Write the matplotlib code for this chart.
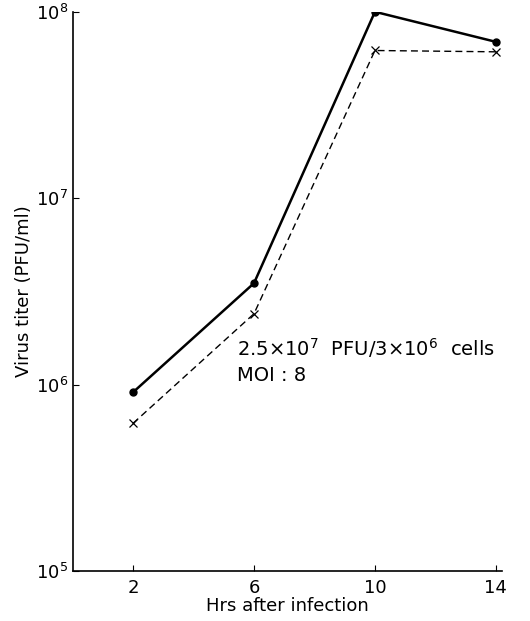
import matplotlib
matplotlib.use("Agg")
import matplotlib.pyplot as plt
from matplotlib.ticker import LogLocator, NullLocator

# data
hours = [2, 6, 10, 14]
titer_solid = [9.1e5, 3.5e6, 1.0e8, 6.9e7]
titer_dashed = [6.2e5, 2.4e6, 6.2e7, 6.1e7]

plt.rcParams['font.family'] = ['DejaVu Sans']
plt.rcParams['mathtext.fontset'] = 'dejavusans'

fig = plt.figure(figsize=(5.3, 6.21), dpi=100)
ax = fig.add_axes([0.137, 0.0805, 0.81, 0.9005])

ax.plot(hours, titer_solid, color='black', lw=1.8, marker='o', ms=5)
ax.plot(hours, titer_dashed, color='black', lw=1.0, ls=(0, (5, 3)),
        marker='x', ms=6, mew=0.9)

ax.set_yscale('log')
ax.set_xlim(0, 14.2)
ax.set_ylim(1e5, 1e8)
ax.set_xticks(hours)
ax.yaxis.set_major_locator(LogLocator(base=10, numticks=10))
ax.yaxis.set_minor_locator(NullLocator())

for s in ['top', 'right']:
    ax.spines[s].set_visible(False)
ax.spines['left'].set_linewidth(1.2)
ax.spines['bottom'].set_linewidth(1.2)
ax.tick_params(direction='in', length=4, width=0.8, labelsize=13)
ax.tick_params(axis='x', pad=6)
ax.tick_params(axis='y', pad=3)

ax.text(5.45, 1.58e6, r'2.5$\times$10$^7$  PFU/3$\times$10$^6$  cells',
        fontsize=14, va='center', ha='left')
ax.text(5.45, 1.12e6, 'MOI : 8', fontsize=14, va='center', ha='left')

ax.set_xlabel('Hrs after infection', fontsize=13, labelpad=0)
ax.set_ylabel('Virus titer (PFU/ml)', fontsize=13, labelpad=2)

fig.savefig('out.png', dpi=100)
